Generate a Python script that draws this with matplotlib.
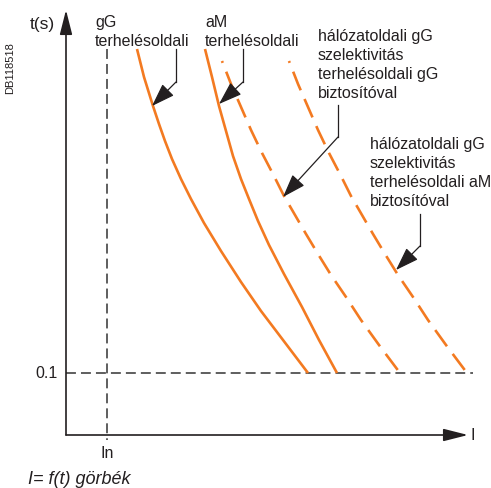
import matplotlib.pyplot as plt
import numpy as np

plt.rcParams["font.family"] = ["Liberation Sans", "DejaVu Sans"]

# curve points (x = current, y = time, drawing units, y down)
gg_x = [137, 144, 153, 159, 165, 172, 181, 191, 204, 221, 241, 261, 283, 308]
gg_y = [50, 78, 107, 125, 142, 160, 180, 200, 224, 252, 283, 312, 341, 374]
am_x = [205, 212, 219, 226, 233, 241, 249, 258, 269, 284, 302, 319, 337]
am_y = [50, 78, 107, 132, 157, 180, 200, 222, 246, 275, 308, 341, 374]
sel_gg_x = [222, 231, 241, 251, 262, 274, 284, 295, 306, 318, 331, 346, 361, 379, 400]
sel_gg_y = [62, 85, 108, 131, 154, 177, 197, 216, 235, 255, 276, 298, 321, 346, 374]
sel_am_x = [289, 298, 308, 318, 329, 341, 351, 362, 373, 385, 398, 413, 428, 446, 467]
sel_am_y = [62, 85, 108, 131, 154, 177, 197, 216, 235, 255, 276, 298, 321, 346, 374]

labels = ["gG\nterhelésoldali",
          "aM\nterhelésoldali",
          "hálózatoldali gG\nszelektivitás\nterhelésoldali gG\nbiztosítóval",
          "hálózatoldali gG\nszelektivitás\nterhelésoldali aM\nbiztosítóval"]

orange = "#f37a21"
ink = "#231f20"

fig = plt.figure(figsize=(4.91, 4.89), dpi=100)
ax = fig.add_axes([0, 0, 1, 1])
ax.set_xlim(0, 491)
ax.set_ylim(489, 0)
ax.axis("off")

# reference lines In and 0.1
ax.plot([107, 107], [50, 441], color="#333333", lw=1.1, dashes=(6.5, 3.3))
ax.plot([66, 473], [374, 374], color="#333333", lw=1.1, dashes=(6.5, 3.3))

# curves
ax.plot(gg_x, gg_y, color=orange, lw=1.9, solid_capstyle="butt", solid_joinstyle="round")
ax.plot(am_x, am_y, color=orange, lw=1.9, solid_capstyle="butt", solid_joinstyle="round")
dash = (6.85, (7.6, 3.6))
ax.plot(sel_gg_x, sel_gg_y, color=orange, lw=1.9, linestyle=dash, dash_capstyle="butt")
ax.plot(sel_am_x, sel_am_y, color=orange, lw=1.9, linestyle=dash, dash_capstyle="butt")

# axes with arrows
head = "-|>,head_length=1.5,head_width=0.38"
ax.annotate("", xy=(66, 11), xytext=(66, 436),
            arrowprops=dict(arrowstyle=head, color=ink, lw=1.2, shrinkA=0, shrinkB=0, mutation_scale=10))
ax.annotate("", xy=(468, 436), xytext=(66, 436),
            arrowprops=dict(arrowstyle=head, color=ink, lw=1.2, shrinkA=0, shrinkB=0, mutation_scale=10))

# callouts
small = "-|>,head_length=1.45,head_width=0.5"
callouts = [(176, 50, 83, 152, 107), (243, 50, 83, 219, 105),
            (338, 106, 138, 283, 198), (420, 215, 247, 396, 271)]
for cx, y0, y1, tx, ty in callouts:
    ax.plot([cx, cx], [y0, y1], color=ink, lw=0.9)
    ax.annotate("", xy=(tx, ty), xytext=(cx, y1),
                arrowprops=dict(arrowstyle=small, color=ink, lw=0.9, shrinkA=0, shrinkB=0, mutation_scale=10))

# texts
fs = 11.5
ax.text(95, 15, labels[0], fontsize=fs, color=ink, va="top", linespacing=1.3)
ax.text(205, 15, labels[1], fontsize=fs, color=ink, va="top", linespacing=1.3)
ax.text(318, 29, labels[2], fontsize=fs, color=ink, va="top", linespacing=1.34)
ax.text(370, 137, labels[3], fontsize=fs, color=ink, va="top", linespacing=1.34)

ax.text(55, 29, "t(s)", fontsize=12.5, color=ink, ha="right", va="baseline")
ax.text(58, 374, "0.1", fontsize=fs, color=ink, ha="right", va="center")
ax.text(107, 446, "In", fontsize=fs, color=ink, ha="center", va="top")
ax.text(471, 436, "I", fontsize=fs, color=ink, ha="left", va="center")
ax.text(28, 484, "I= f(t) görbék", fontsize=13, color=ink, style="italic", va="baseline")
ax.text(10, 68, "DB118518", fontsize=8, color=ink, rotation=90, ha="center", va="center")

fig.savefig("out.png", dpi=100)
